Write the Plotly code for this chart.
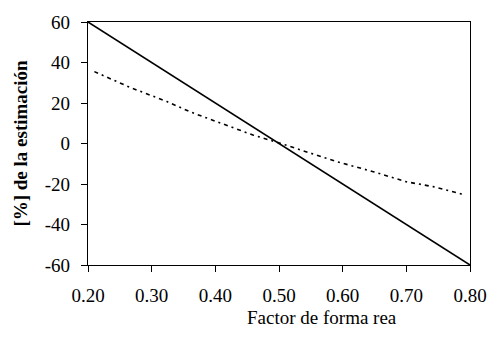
import plotly.graph_objects as go

x_solid = [0.20, 0.30, 0.40, 0.50, 0.60, 0.70, 0.80]
y_solid = [60, 40, 20, 0, -20, -40, -60]

x_dot = [0.21, 0.266, 0.324, 0.36, 0.402, 0.459, 0.502, 0.549, 0.591, 0.648, 0.70, 0.742, 0.792]
y_dot = [35.5, 27.7, 20.7, 15.7, 10.8, 4.2, 0.1, -4.8, -9.0, -13.9, -18.9, -21.3, -25.4]

x_ticks = [0.20, 0.30, 0.40, 0.50, 0.60, 0.70, 0.80]
x_tick_labels = ["0.20", "0.30", "0.40", "0.50", "0.60", "0.70", "0.80"]
y_ticks = [60, 40, 20, 0, -20, -40, -60]
y_tick_labels = ["60", "40", "20", "0", "-20", "-40", "-60"]

font_family = "Liberation Serif, Times New Roman, serif"

fig = go.Figure()
fig.add_trace(go.Scatter(x=x_solid, y=y_solid, mode="lines",
                         line=dict(color="black", width=1.6), showlegend=False))
fig.add_trace(go.Scatter(x=x_dot, y=y_dot, mode="lines",
                         line=dict(color="black", width=1.6, dash="4px,4px,2px,4px"),
                         showlegend=False))

fig.update_layout(
    width=492, height=338,
    margin=dict(l=88, r=22, t=22, b=73, autoexpand=False),
    paper_bgcolor="white", plot_bgcolor="white",
    font=dict(family=font_family, size=19, color="black"),
    xaxis=dict(range=[0.2, 0.8], tickvals=x_ticks, ticktext=x_tick_labels,
               automargin=False, ticklabelstandoff=7,
               showgrid=False, zeroline=False, showline=True, linecolor="black",
               linewidth=1.3, mirror=True, ticks="outside", ticklen=6,
               tickcolor="black", tickfont=dict(size=19)),
    yaxis=dict(range=[-60, 60], tickvals=y_ticks, ticktext=y_tick_labels,
               automargin=False, ticklabelstandoff=7,
               showgrid=False, zeroline=False, showline=True, linecolor="black",
               linewidth=1.3, mirror=True, ticks="outside", ticklen=6,
               tickcolor="black", tickfont=dict(size=19),
               title=dict(text="<b>[%] de la estimación</b>", standoff=12,
                          font=dict(size=19))),
    annotations=[dict(text="Factor de forma rea", xref="paper", yref="paper",
                      x=0.613, y=-0.215, xanchor="center", yanchor="middle",
                      showarrow=False, font=dict(size=19))],
)

fig.write_html("out.html", config={"displayModeBar": False},
               post_script="document.body.style.margin='0';document.body.style.overflow='hidden';")
